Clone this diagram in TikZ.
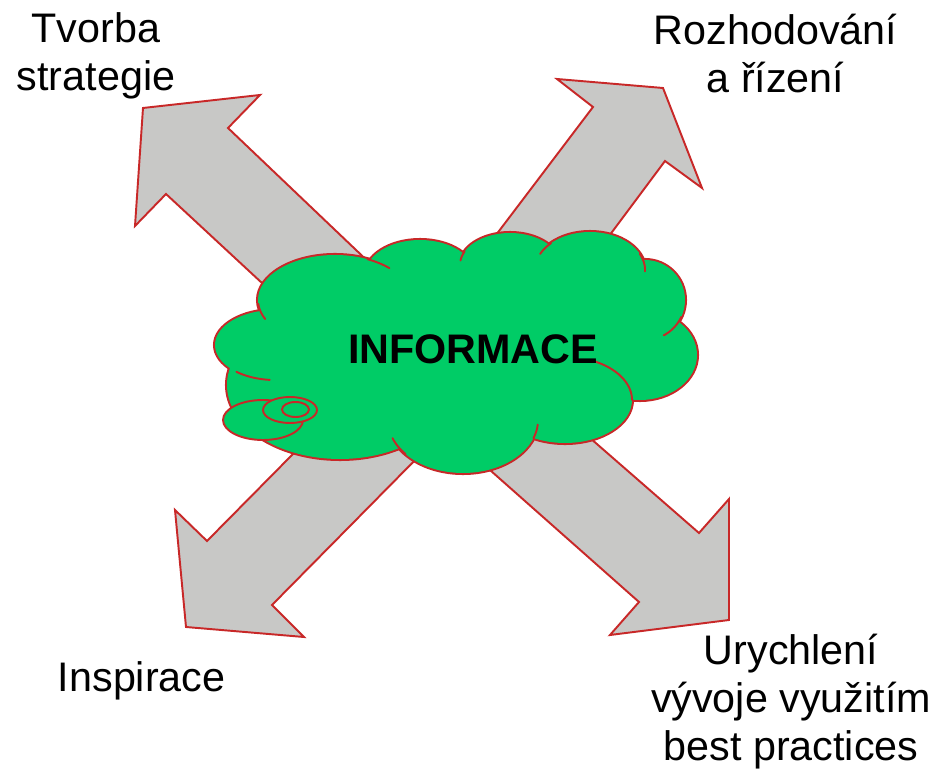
\documentclass[tikz,border=0pt]{standalone}
\usepackage{fontspec}
\setmainfont{Liberation Sans}
\definecolor{cloudgreen}{RGB}{0,204,102}
\definecolor{arrowgray}{RGB}{200,200,198}
\definecolor{edgered}{RGB}{200,40,40}
\begin{document}
\begin{tikzpicture}[x=0.02cm, y=-0.02cm,
    blockarrow/.style={fill=arrowgray, draw=edgered, line width=1.1pt, line join=miter},
    lobe/.style={draw=edgered, line width=2.3pt},
    crease/.style={draw=edgered, line width=1.1pt, line cap=round},
    puff/.style={fill=cloudgreen, draw=edgered, line width=1.1pt},
    labeltext/.style={align=center, anchor=base, inner sep=0pt, font=\fontsize{23.5}{27.2}\selectfont}]
    \useasboundingbox (0,0) rectangle (940,773);

    % Block arrows (under the cloud)
    \draw[blockarrow] (345,360) -- (166,194) -- (135,226) -- (143,108) -- (260,95) -- (228,128) -- (440,330) -- cycle;
    \draw[blockarrow] (424,330) -- (593,107) -- (557,79) -- (663,88) -- (702,188) -- (665,161) -- (539,330) -- cycle;
    \draw[blockarrow] (376,370) -- (207,541) -- (175,510) -- (186,627) -- (304,637) -- (272,605) -- (504,370) -- cycle;
    \draw[blockarrow] (377,370) -- (639,602) -- (610,635) -- (729,620) -- (729,499) -- (699,533) -- (512,370) -- cycle;

    % Cloud: red outline of all lobes, then green fill over it
    \foreach \cx/\cy/\rx/\ry in {335/300/77/45, 420/275/55/35, 510/265/50/32, 590/270/55/38, 645/300/40/40,
                                640/355/57/45, 565/400/67/43, 463/420/75/53, 340/385/113/74, 275/345/60/35}
        \draw[lobe] (\cx,\cy) ellipse [x radius=0.02cm*\rx, y radius=0.02cm*\ry];
    \foreach \cx/\cy/\rx/\ry in {335/300/77/45, 420/275/55/35, 510/265/50/32, 590/270/55/38, 645/300/40/40,
                                640/355/57/45, 565/400/67/43, 463/420/75/53, 340/385/113/74, 275/345/60/35, 460/345/170/65}
        \fill[cloudgreen] (\cx,\cy) ellipse [x radius=0.02cm*\rx, y radius=0.02cm*\ry];
    \fill[cloudgreen] (335,300) -- (420,275) -- (510,265) -- (590,270) -- (645,300) -- (640,355)
        -- (565,400) -- (463,420) -- (340,385) -- (275,345) -- cycle;

    % Creases between lobes
    \foreach \cx/\cy/\rx/\ry/\ta/\tb in {335/300/77/45/175/155, 335/300/77/45/-65/-45, 510/265/50/32/205/188,
                                        590/270/55/38/225/205, 590/270/55/38/-25/2, 645/300/40/40/25/62,
                                        565/400/67/43/-64/0, 463/420/75/53/20/5, 463/420/75/53/140/160,
                                        275/345/60/35/130/95}
        \draw[crease] plot[domain=\ta:\tb, samples=25, smooth] ({\cx+\rx*cos(\x)}, {\cy+\ry*sin(\x)});

    % Small puffs of the cloud tail
    \draw[puff] (263,420) ellipse [x radius=0.02cm*40, y radius=0.02cm*20];
    \draw[puff] (290,410) ellipse [x radius=0.02cm*27, y radius=0.02cm*13];
    \draw[puff] (295.5,409.5) ellipse [x radius=0.02cm*13.5, y radius=0.02cm*7.5];

    % Labels (base = baseline of the last line)
    \node[font=\fontsize{23.5}{27.2}\selectfont\bfseries] (info) at (473,349) {INFORMACE};
    \node[labeltext] (strategy) at (96,90.5) {Tvorba\\strategie};
    \node[labeltext] (decision) at (775.5,92.5) {Rozhodování\\a řízení};
    \node[labeltext] (inspiration) at (141.7,691.7) {Inspirace};
    \node[labeltext] (speedup) at (791,760) {Urychlení\\vývoje využitím\\best practices};
\end{tikzpicture}
\end{document}
